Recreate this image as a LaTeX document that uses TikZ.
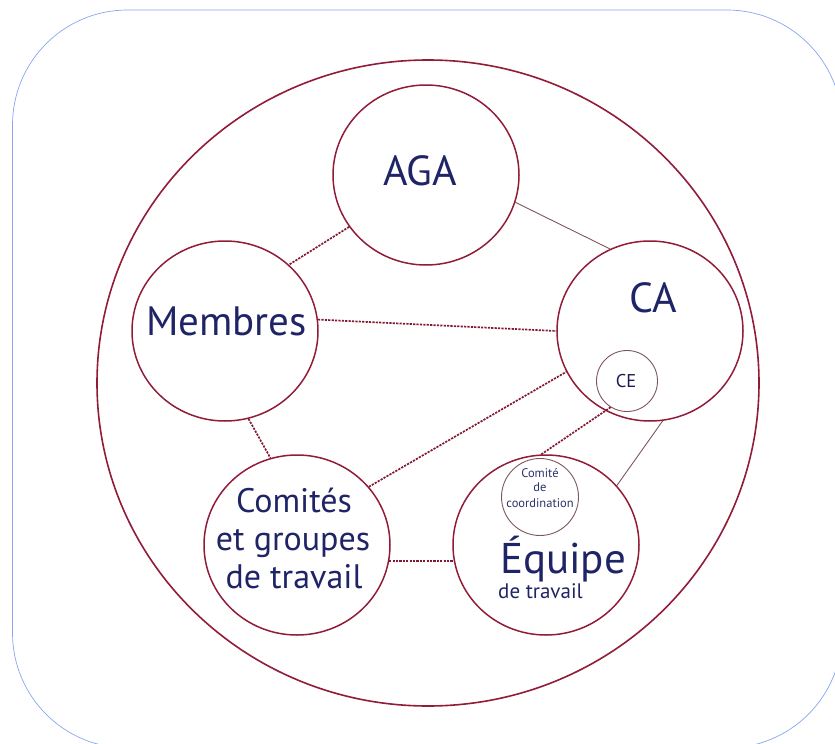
\documentclass[tikz,border=0pt]{standalone}
\usepackage{fontspec}
\setmainfont{PT Sans}
\usetikzlibrary{shapes.geometric}
\definecolor{ring}{HTML}{911C37}
\definecolor{thinring}{HTML}{7D5560}
\definecolor{navy}{HTML}{1F2466}
\definecolor{frameblue}{HTML}{88A4F0}
\tikzset{
  bigcirc/.style={ellipse, draw=ring, line width=1.5pt, inner sep=0pt, minimum width=186pt, minimum height=180pt},
  smallcirc/.style={circle, draw=thinring, line width=0.9pt, inner sep=0pt},
  lbl/.style={text=navy, inner sep=0pt, anchor=base},
  dotlink/.style={draw=ring!90!black, line width=1.7pt, dash pattern=on 2.2pt off 1.2pt},
  thinlink/.style={draw=thinring, line width=0.9pt},
}
\begin{document}
\begin{tikzpicture}[x=1pt,y=-1pt]
\useasboundingbox (0,0) rectangle (835,744);
\draw[frameblue, line width=0.7pt, rounded corners=115pt] (12.5,10) rectangle (842,748);
\node[ellipse, draw=ring, line width=1.6pt, inner sep=0pt, minimum width=662pt, minimum height=646pt] (outer) at (428,383) {};

\node[bigcirc] (AGA) at (426,175) {};
\node[bigcirc] (Mem) at (225,331) {};
\node[bigcirc] (CA) at (650,331) {};
\node[bigcirc] (Com) at (297,545) {};
\node[bigcirc] (Eq) at (546,545) {};
\node[smallcirc, minimum size=61pt] (CE) at (627,381) {};
\node[smallcirc, minimum size=77pt] (Coord) at (540,497) {};

\node[lbl, font=\fontsize{42}{42}\selectfont] (tAGA) at (420,185) {AGA};
\node[lbl, font=\fontsize{41}{41}\selectfont] (tMem) at (226.5,335) {Membres};
\node[lbl, font=\fontsize{42}{42}\selectfont] (tCA) at (653,312) {CA};
\node[lbl, font=\fontsize{34}{34}\selectfont] (tCom1) at (294,512) {Comités};
\node[lbl, font=\fontsize{34}{34}\selectfont] (tCom2) at (293,550) {et groupes};
\node[lbl, font=\fontsize{34}{34}\selectfont] (tCom3) at (294,588) {de travail};
\node[lbl, font=\fontsize{43}{43}\selectfont] (tEq1) at (563,573) {Équipe};
\node[lbl, font=\fontsize{21}{21}\selectfont] (tEq2) at (540.5,598) {de travail};
\node[lbl, font=\fontsize{18.5}{18.5}\selectfont, text=navy!80!black] (tCE) at (626,387) {CE};
\node[lbl, font=\fontsize{12.5}{12.5}\selectfont, text=navy!85!gray] (tC1) at (540,477) {Comité};
\node[lbl, font=\fontsize{12.5}{12.5}\selectfont, text=navy!85!gray] (tC2) at (540,491) {de};
\node[lbl, font=\fontsize{12.5}{12.5}\selectfont, text=navy!85!gray] (tC3) at (540,507) {coordination};

\draw[dotlink] (AGA.214) -- (Mem.46);
\draw[thinlink] (AGA.-17) -- (CA.116);
\draw[dotlink] (Mem.7) -- (CA.180);
\draw[dotlink] (Mem.-75) -- (Com.107);
\draw[dotlink] (Com.39) -- (CA.206);
\draw[dotlink] (CE.238) -- (Eq.93);
\draw[thinlink] (CA.-82) -- (Eq.40);
\draw[dotlink] (Com.-10) -- (Eq.190);
\end{tikzpicture}
\end{document}
